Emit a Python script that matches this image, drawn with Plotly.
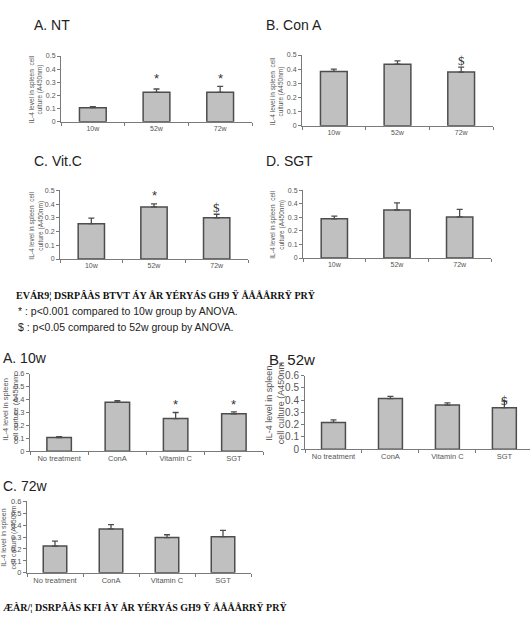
import plotly.graph_objects as go

W, H = 530, 620

weeks = ["10w", "52w", "72w"]
nt_vals = [0.107, 0.224, 0.224]
nt_err = [0.007, 0.025, 0.045]
cona_vals = [0.384, 0.435, 0.379]
cona_err = [0.016, 0.023, 0.035]
vitc_vals = [0.257, 0.379, 0.30]
vitc_err = [0.041, 0.023, 0.026]
sgt_vals = [0.29, 0.355, 0.304]
sgt_err = [0.019, 0.053, 0.056]

treatments = ["No treatment", "ConA", "Vitamin C", "SGT"]
w10_vals = [0.106, 0.38, 0.253, 0.29]
w10_err = [0.006, 0.012, 0.047, 0.014]
w52_vals = [0.219, 0.413, 0.36, 0.339]
w52_err = [0.021, 0.019, 0.019, 0.053]
w72_vals = [0.224, 0.368, 0.295, 0.303]
w72_err = [0.041, 0.036, 0.024, 0.052]

# significance marks: (category, y, symbol)
nt_marks = [("52w", 0.326, "*"), ("72w", 0.326, "*")]
cona_marks = [("72w", 0.458, "$")]
vitc_marks = [("52w", 0.464, "*"), ("72w", 0.374, "$")]
sgt_marks = []
w10_marks = [("Vitamin C", 0.365, "*"), ("SGT", 0.365, "*")]
w52_marks = [("SGT", 0.40, "$")]
w72_marks = []

titles = ["A. NT", "B. Con A", "C. Vit.C", "D. SGT", "A. 10w", "B. 52w", "C. 72w"]
ytitle_top = "IL-4 level in spleen  cell<br>culture (A450nm)"
ytitle_e = "IL-4 level in spleen<br>cell curture (A450nm"
ytitle_fg = "IL-4 level in spleen<br>cell culture (A450nm"
note1 = "* : p<0.001 compared to 10w group by ANOVA."
note2 = "$ : p<0.05 compared to 52w group by ANOVA."
garble1 = "EVÁR9¦ DSRPÂÀS BTVT ÁY ÅR YÉRYÁS GH9 Ÿ ÅÅÅÅRRŸ PRŸ"
garble2 = "ÆÀR/¦ DSRPÂÀS KFI ÀY ÅR YÉRYÁS GH9 Ÿ ÅÅÅÅRRŸ PRŸ"

panels = [
    dict(cats=weeks, vals=nt_vals, err=nt_err, marks=nt_marks, px=(61, 252, 51, 118), ymax=0.5, xr=2.5, tf=7, cf=7),
    dict(cats=weeks, vals=cona_vals, err=cona_err, marks=cona_marks, px=(302, 493, 50, 122), ymax=0.5, xr=2.5, tf=7, cf=7),
    dict(cats=weeks, vals=vitc_vals, err=vitc_err, marks=vitc_marks, px=(60, 248, 188, 258), ymax=0.5, xr=2.5, tf=7, cf=7),
    dict(cats=weeks, vals=sgt_vals, err=sgt_err, marks=sgt_marks, px=(303, 491, 188, 257), ymax=0.5, xr=2.5, tf=7, cf=7),
    dict(cats=treatments, vals=w10_vals, err=w10_err, marks=w10_marks, px=(30, 263, 375, 454), ymax=0.6, xr=3.5, tf=7.5, cf=7.5),
    dict(cats=treatments, vals=w52_vals, err=w52_err, marks=w52_marks, px=(305, 530, 377, 452), ymax=0.6, xr=3.45, tf=10, cf=7.5),
    dict(cats=treatments, vals=w72_vals, err=w72_err, marks=w72_marks, px=(27, 251, 505, 578), ymax=0.6, xr=3.5, tf=7.5, cf=7.5),
]

AX = "#7a7a7a"
TXT = "#555555"
fig = go.Figure()
layout = dict(width=W, height=H, margin=dict(l=0, r=0, t=0, b=0),
              paper_bgcolor="white", plot_bgcolor="white", showlegend=False)
annotations = []

for i, p in enumerate(panels):
    n = "" if i == 0 else str(i + 1)
    x0, x1, yt, yb = p["px"]
    fig.add_trace(go.Bar(
        x=p["cats"], y=p["vals"], width=0.42,
        marker=dict(color="#c0c0c0", line=dict(color="#4d4d4d", width=1.5)),
        error_y=dict(type="data", array=p["err"], arrayminus=[0] * len(p["err"]),
                     symmetric=False, color="#4d4d4d", thickness=1.3, width=3),
        xaxis="x" + n, yaxis="y" + n))
    layout["xaxis" + n] = dict(
        domain=[x0 / W, x1 / W], anchor="y" + n, type="category",
        range=[-0.5, p["xr"]], showline=True, linecolor=AX, linewidth=1,
        ticks="outside", tickson="boundaries", ticklen=3, tickcolor=AX,
        tickfont=dict(family="Liberation Sans", size=p["cf"], color=TXT),
        showgrid=False, fixedrange=True)
    layout["yaxis" + n] = dict(
        domain=[1 - yb / H, 1 - yt / H], anchor="x" + n,
        range=[0, p["ymax"]], dtick=0.1, tick0=0, showline=True, linecolor=AX,
        linewidth=1, ticks="outside", ticklen=3, tickcolor=AX,
        tickfont=dict(family="Liberation Sans", size=p["tf"], color=TXT),
        showgrid=False, zeroline=False, fixedrange=True)
    for cat, yv, sym in p["marks"]:
        annotations.append(dict(
            x=cat, y=yv, xref="x" + n, yref="y" + n, text=sym, showarrow=False,
            font=dict(family="Liberation Serif" if sym == "$" else "Liberation Sans",
                      size=13, color="#333333"),
            xanchor="center", yanchor="middle"))

def pa(text, xpx, ypx, size, xanchor="left", family="Liberation Sans", color="#222222", angle=0):
    annotations.append(dict(text=text, x=xpx / W, y=1 - ypx / H, xref="paper", yref="paper",
                            showarrow=False, xanchor=xanchor, yanchor="middle",
                            textangle=angle, align="center",
                            font=dict(family=family, size=size, color=color)))

# panel titles
pa(titles[0], 32, 19, 14)
pa(titles[1], 264, 19, 14)
pa(titles[2], 32, 158, 14)
pa(titles[3], 264, 158, 14)
pa(titles[4], 1, 359, 14)
pa(titles[5], 267, 360, 15)
pa(titles[6], 1, 489, 14)

# y axis titles
pa(ytitle_top, 36, 85, 6.5, xanchor="center", color=TXT, angle=-90)
pa(ytitle_top, 277, 87, 6.5, xanchor="center", color=TXT, angle=-90)
pa(ytitle_top, 36, 224, 6.5, xanchor="center", color=TXT, angle=-90)
pa(ytitle_top, 277, 223, 6.5, xanchor="center", color=TXT, angle=-90)
pa(ytitle_e, 10, 412, 7.5, xanchor="center", color=TXT, angle=-90)
pa(ytitle_fg, 275, 405, 9, xanchor="center", color=TXT, angle=-90)
pa(ytitle_fg, 9, 542, 7, xanchor="center", color=TXT, angle=-90)

# captions
GF = "Liberation Serif"
pa("<b>" + garble1 + "</b>", 14, 295, 10, family=GF, color="#111111")
pa(note1, 16, 311, 10.5, color="#222222")
pa(note2, 16, 327, 10.5, color="#222222")
pa("<b>" + garble2 + "</b>", 1, 613, 10, family=GF, color="#111111")

layout["annotations"] = annotations
fig.update_layout(**layout)
fig.write_html("out.html")
